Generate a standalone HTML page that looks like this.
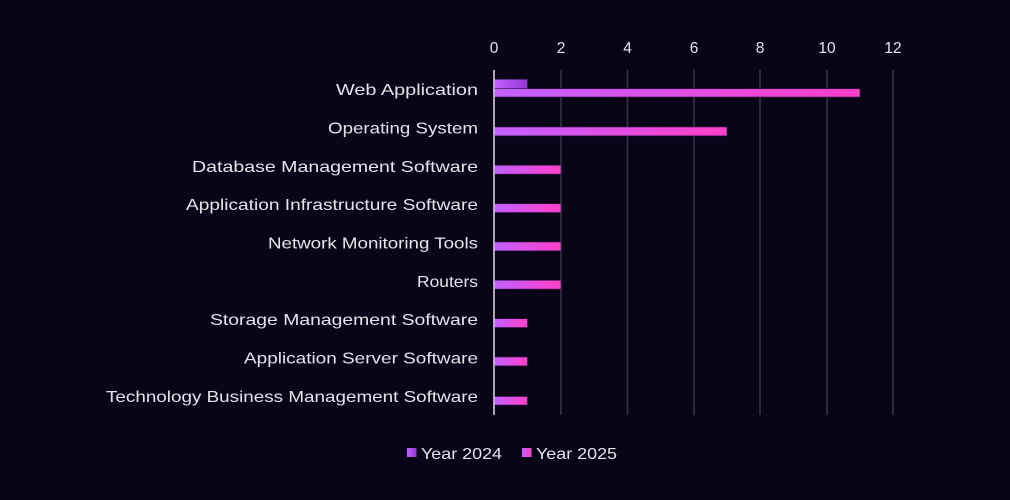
<!DOCTYPE html>
<html>
<head>
<meta charset="utf-8">
<style>
  html, body { margin: 0; padding: 0; background: #0a0418; }
  body { width: 1010px; height: 500px; overflow: hidden; }
  svg { display: block; }
  text { font-family: "Liberation Sans", "DejaVu Sans", sans-serif; fill: #e6e4ea; }
</style>
</head>
<body>
<svg width="1010" height="500" viewBox="0 0 1010 500" xmlns="http://www.w3.org/2000/svg">
  <defs>
    <linearGradient id="g24" x1="0" y1="0" x2="1" y2="0">
      <stop offset="0" stop-color="#c462ff"/>
      <stop offset="1" stop-color="#9434d6"/>
    </linearGradient>
    <linearGradient id="g25" x1="0" y1="0" x2="1" y2="0">
      <stop offset="0" stop-color="#c062ff"/>
      <stop offset="1" stop-color="#ff3ec8"/>
    </linearGradient>
  </defs>
  <rect x="0" y="0" width="1010" height="500" fill="#0a0418"/>

  <!-- gridlines -->
  <g stroke="#3a3548" stroke-width="1.5">
    <line x1="561" y1="70" x2="561" y2="415"/>
    <line x1="627.5" y1="70" x2="627.5" y2="415"/>
    <line x1="694" y1="70" x2="694" y2="415"/>
    <line x1="760" y1="70" x2="760" y2="415"/>
    <line x1="827" y1="70" x2="827" y2="415"/>
    <line x1="893" y1="70" x2="893" y2="415"/>
  </g>

  <!-- tick labels -->
  <g font-size="15.5" text-anchor="middle">
    <text x="494" y="53">0</text>
    <text x="561" y="53">2</text>
    <text x="627.5" y="53">4</text>
    <text x="694" y="53">6</text>
    <text x="760" y="53">8</text>
    <text x="827" y="53">10</text>
    <text x="893" y="53">12</text>
  </g>

  <!-- bars -->
  <g stroke="#3a1050" stroke-width="0.6">
    <!-- 2024 -->
    <rect x="494.5" y="79.3" width="33" height="9.4" fill="url(#g24)"/>
    <!-- 2025 -->
    <rect x="494.5" y="88.7" width="365.5" height="8.3" fill="url(#g25)"/>
    <rect x="494.5" y="127" width="232.5" height="8.8" fill="url(#g25)"/>
    <rect x="494.5" y="165.3" width="66.5" height="8.8" fill="url(#g25)"/>
    <rect x="494.5" y="203.7" width="66.5" height="8.8" fill="url(#g25)"/>
    <rect x="494.5" y="242" width="66.5" height="8.8" fill="url(#g25)"/>
    <rect x="494.5" y="280.3" width="66.5" height="8.8" fill="url(#g25)"/>
    <rect x="494.5" y="318.7" width="33" height="8.8" fill="url(#g25)"/>
    <rect x="494.5" y="357" width="33" height="8.8" fill="url(#g25)"/>
    <rect x="494.5" y="396.5" width="33" height="8.5" fill="url(#g25)"/>
  </g>

  <!-- axis line -->
  <line x1="494" y1="70" x2="494" y2="415" stroke="#d4d2d8" stroke-width="1.6"/>

  <!-- category labels -->
  <g font-size="16" text-anchor="end" lengthAdjust="spacingAndGlyphs">
    <text x="478" y="95" textLength="142" lengthAdjust="spacingAndGlyphs">Web Application</text>
    <text x="478" y="133.5" textLength="150" lengthAdjust="spacingAndGlyphs">Operating System</text>
    <text x="478" y="171.8" textLength="286" lengthAdjust="spacingAndGlyphs">Database Management Software</text>
    <text x="478" y="210.2" textLength="292" lengthAdjust="spacingAndGlyphs">Application Infrastructure Software</text>
    <text x="478" y="248.5" textLength="210" lengthAdjust="spacingAndGlyphs">Network Monitoring Tools</text>
    <text x="478" y="286.8" textLength="61" lengthAdjust="spacingAndGlyphs">Routers</text>
    <text x="478" y="325.2" textLength="268" lengthAdjust="spacingAndGlyphs">Storage Management Software</text>
    <text x="478" y="363.5" textLength="234" lengthAdjust="spacingAndGlyphs">Application Server Software</text>
    <text x="478" y="401.8" textLength="372" lengthAdjust="spacingAndGlyphs">Technology Business Management Software</text>
  </g>

  <!-- legend -->
  <rect x="407" y="448" width="9.5" height="9" fill="url(#g24)"/>
  <text x="421" y="459" font-size="16" textLength="81" lengthAdjust="spacingAndGlyphs">Year 2024</text>
  <rect x="522" y="448" width="9.5" height="9" fill="url(#g25)"/>
  <text x="536" y="459" font-size="16" textLength="81" lengthAdjust="spacingAndGlyphs">Year 2025</text>
</svg>
</body>
</html>
